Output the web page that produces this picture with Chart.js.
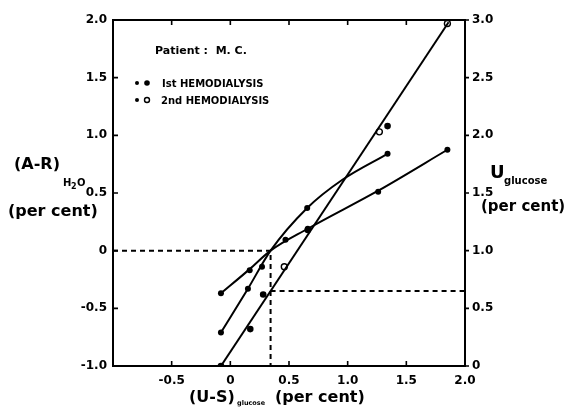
<!DOCTYPE html>
<html><head><meta charset="utf-8">
<script src="https://cdn.jsdelivr.net/npm/chart.js@4/dist/chart.umd.min.js"></script>
<style>html,body{margin:0;padding:0;background:#fff}#wrap{width:566px;height:408px}</style>
</head><body><div id="wrap"><canvas id="c" width="566" height="408"></canvas></div>
<script>
// ---- data ----
const xTicks = [-0.5, 0, 0.5, 1.0, 1.5, 2.0];
const xTickLabels = ['-0.5', '0', '0.5', '1.0', '1.5', '2.0'];
const leftTicks = [-1.0, -0.5, 0, 0.5, 1.0, 1.5, 2.0];
const leftTickLabels = ['-1.0', '-0.5', '0', '0.5', '1.0', '1.5', '2.0'];
const rightTicks = [0, 0.5, 1.0, 1.5, 2.0, 2.5, 3.0];
const rightTickLabels = ['0', '0.5', '1.0', '1.5', '2.0', '2.5', '3.0'];

// U glucose fitted straight line (right axis)
const uLineX = [-0.08, 1.86];
const uLineY = [0.0, 2.98];
// (A-R)H2O fitted curves (left axis)
const curve1X = [-0.08, 0.165, 0.343, 0.66, 1.26, 1.85];
const curve1Y = [-0.37, -0.16, 0.0, 0.19, 0.52, 0.875];
const curve2X = [-0.08, 0.15, 0.343, 0.655, 0.955, 1.34];
const curve2Y = [-0.71, -0.33, 0.0, 0.37, 0.615, 0.84];
// measured points: (A-R)H2O small dots (left axis)
const arX = [-0.08, 0.165, 0.47, 0.66, 1.26, 1.85, -0.08, 0.15, 0.27, 0.655, 1.34];
const arY = [-0.37, -0.17, 0.095, 0.19, 0.51, 0.875, -0.71, -0.33, -0.14, 0.37, 0.84];
// U glucose, 1st hemodialysis (filled circles, right axis)
const u1X = [-0.08, 0.17, 0.28, 0.66, 1.34];
const u1Y = [0.0, 0.32, 0.62, 1.18, 2.08];
// U glucose, 2nd hemodialysis (open circles, right axis)
const u2X = [0.46, 1.27, 1.85];
const u2Y = [0.86, 2.03, 2.97];
// reading guides
const guideLeftX = [-1.0, 0.343, 0.343];
const guideLeftY = [0.0, 0.0, -1.0];
const guideRightX = [0.343, 2.0];
const guideRightY = [0.65, 0.65];

const pts = (xs, ys) => xs.map((x, i) => ({x: x, y: ys[i]}));
const FONT = '"DejaVu Sans", Verdana, sans-serif';

const decor = {
  id: 'decor',
  afterDraw(chart) {
    const ctx = chart.ctx, a = chart.chartArea;
    const sx = chart.scales.x, sl = chart.scales.y, sr = chart.scales.yR;
    ctx.save();
    ctx.strokeStyle = '#000'; ctx.lineWidth = 2;
    ctx.strokeRect(a.left, a.top, a.right - a.left, a.bottom - a.top);
    ctx.lineWidth = 1.6;
    ctx.beginPath();
    xTicks.forEach(v => { const p = sx.getPixelForValue(v);
      ctx.moveTo(p, a.bottom); ctx.lineTo(p, a.bottom - 5);
      ctx.moveTo(p, a.top); ctx.lineTo(p, a.top + 5); });
    leftTicks.forEach(v => { const p = sl.getPixelForValue(v);
      ctx.moveTo(a.left, p); ctx.lineTo(a.left + 5, p); });
    rightTicks.forEach(v => { const p = sr.getPixelForValue(v);
      ctx.moveTo(a.right, p); ctx.lineTo(a.right + 4, p); });
    ctx.stroke();

    ctx.fillStyle = '#000';
    ctx.textBaseline = 'alphabetic';
    ctx.textAlign = 'left';
    // left title
    ctx.font = 'bold 16px ' + FONT;
    ctx.fillText('(A-R)', 14, 169);
    ctx.font = 'bold 10px ' + FONT;
    ctx.fillText('H', 63, 186);
    ctx.font = 'bold 8px ' + FONT;
    ctx.fillText('2', 71, 189);
    ctx.font = 'bold 10px ' + FONT;
    ctx.fillText('O', 77, 186);
    ctx.font = 'bold 16px ' + FONT;
    ctx.fillText('(per cent)', 8, 216);
    // right title
    ctx.font = 'bold 18px ' + FONT;
    ctx.fillText('U', 490, 178);
    ctx.font = 'bold 10px ' + FONT;
    ctx.fillText('glucose', 504, 184);
    ctx.font = 'bold 15px ' + FONT;
    ctx.fillText('(per cent)', 481, 211);
    // bottom title
    ctx.font = 'bold 16px ' + FONT;
    ctx.fillText('(U-S)', 189, 402);
    ctx.font = 'bold 6.5px ' + FONT;
    ctx.fillText('glucose', 237, 405);
    ctx.font = 'bold 16px ' + FONT;
    ctx.fillText('(per cent)', 275, 402);
    // patient + legend
    ctx.font = 'bold 11px ' + FONT;
    ctx.fillText('Patient :  M. C.', 155, 54);
    ctx.font = 'bold 10px ' + FONT;
    ctx.fillText('Ist HEMODIALYSIS', 162, 87);
    ctx.fillText('2nd HEMODIALYSIS', 161, 104);
    ctx.beginPath(); ctx.arc(137, 83, 2, 0, Math.PI*2); ctx.fill();
    ctx.beginPath(); ctx.arc(147, 83, 2.8, 0, Math.PI*2); ctx.fill();
    ctx.beginPath(); ctx.arc(137, 100, 2, 0, Math.PI*2); ctx.fill();
    ctx.lineWidth = 1.4;
    ctx.beginPath(); ctx.arc(147, 100, 2.5, 0, Math.PI*2); ctx.stroke();
    ctx.restore();
  }
};

const lineDs = (data, axis, extra) => Object.assign({
  type: 'line', data: data, yAxisID: axis, borderColor: '#000', borderWidth: 2,
  pointRadius: 0, fill: false, showLine: true
}, extra || {});

new Chart(document.getElementById('c'), {
  type: 'scatter',
  data: { datasets: [
    lineDs(pts(guideLeftX, guideLeftY), 'y', {borderDash: [5, 4], borderWidth: 2}),
    lineDs(pts(guideRightX, guideRightY), 'yR', {borderDash: [5, 4], borderWidth: 2}),
    lineDs(pts(uLineX, uLineY), 'yR'),
    lineDs(pts(curve1X, curve1Y), 'y', {cubicInterpolationMode: 'monotone'}),
    lineDs(pts(curve2X, curve2Y), 'y', {cubicInterpolationMode: 'monotone'}),
    {data: pts(arX, arY), yAxisID: 'y', backgroundColor: '#000', borderColor: '#000', pointRadius: 3, borderWidth: 0},
    {data: pts(u1X, u1Y), yAxisID: 'yR', backgroundColor: '#000', borderColor: '#000', pointRadius: 3.3, borderWidth: 0},
    {data: pts(u2X, u2Y), yAxisID: 'yR', backgroundColor: '#fff', borderColor: '#000', pointRadius: 3, borderWidth: 1.4}
  ]},
  options: {
    responsive: false, animation: false,
    layout: { padding: { top: 20, left: 0, right: 0, bottom: 0 } },
    plugins: { legend: { display: false }, tooltip: { enabled: false } },
    scales: {
      x: {
        type: 'linear', min: -1.0, max: 2.0,
        afterBuildTicks: s => { s.ticks = xTicks.map(v => ({value: v})); },
        afterFit: s => { s.height = 42; },
        grid: { display: false, drawTicks: false }, border: { display: false },
        ticks: { color: '#000', padding: 8, maxRotation: 0, autoSkip: false,
          font: { family: FONT, weight: 'bold', size: 12 },
          callback: (v) => xTickLabels[xTicks.indexOf(v)] }
      },
      y: {
        type: 'linear', position: 'left', min: -1.0, max: 2.0,
        afterBuildTicks: s => { s.ticks = leftTicks.map(v => ({value: v})); },
        afterFit: s => { s.width = 113; },
        grid: { display: false, drawTicks: false }, border: { display: false },
        ticks: { color: '#000', padding: 6, autoSkip: false,
          font: { family: FONT, weight: 'bold', size: 12 },
          callback: (v) => leftTickLabels[leftTicks.indexOf(v)] }
      },
      yR: {
        type: 'linear', position: 'right', min: 0, max: 3.0,
        afterBuildTicks: s => { s.ticks = rightTicks.map(v => ({value: v})); },
        afterFit: s => { s.width = 101; },
        grid: { display: false, drawTicks: false }, border: { display: false },
        ticks: { color: '#000', padding: 7, autoSkip: false,
          font: { family: FONT, weight: 'bold', size: 12 },
          callback: (v) => rightTickLabels[rightTicks.indexOf(v)] }
      }
    }
  },
  plugins: [decor]
});
</script></body></html>
